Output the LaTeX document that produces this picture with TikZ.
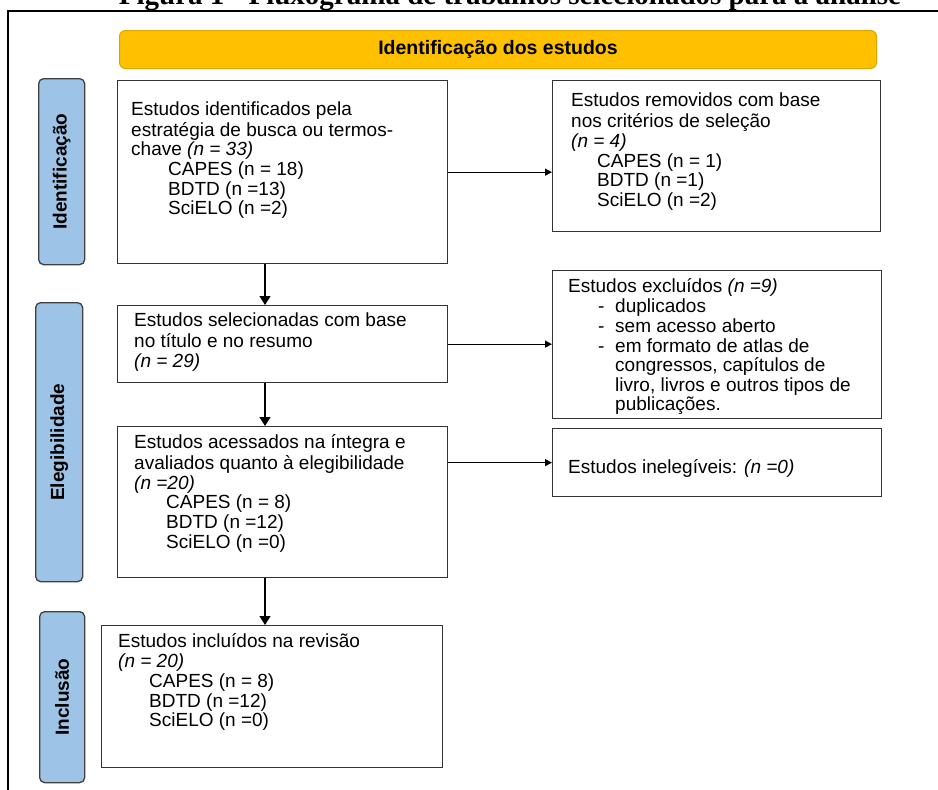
\documentclass[tikz,border=0pt]{standalone}
\usepackage{fontspec}
\setmainfont{Liberation Sans}
\newfontfamily\titlefont{Liberation Serif}
\usetikzlibrary{arrows.meta}
\definecolor{banner}{HTML}{FFC000}
\definecolor{bannerborder}{HTML}{D9A600}
\definecolor{phaseblue}{HTML}{9DC3E6}
\definecolor{boxline}{HTML}{333333}
\newcommand\bodyfont{\fontsize{19}{19.6}\selectfont}
\begin{document}
\begin{tikzpicture}[x=1pt,y=-1pt,
  box/.style={draw=boxline, line width=1.3pt, anchor=north west, inner sep=0pt},
  txt/.style={anchor=north west, inner sep=0pt, align=left, font=\bodyfont},
  phase/.style={draw=black!75, fill=phaseblue, rounded corners=5pt, line width=1.3pt, anchor=north west, inner sep=0pt},
  phtxt/.style={rotate=90, inner sep=0pt, font=\bfseries\fontsize{19}{20}\selectfont},
  varr/.style={line width=1.3pt, -{Triangle[length=9pt,width=11pt]}},
  harr/.style={line width=1.3pt, -{Triangle[length=7pt,width=7pt]}}]
\useasboundingbox (0,0) rectangle (938,790);
% title (cut off at the top)
\node[font=\titlefont\bfseries\fontsize{29}{31}\selectfont, anchor=base, inner sep=0pt] (title) at (510,4) {Figura 1 - Fluxograma de trabalhos selecionados para a análise};
% frame
\coordinate (fr1) at (938,11);
\coordinate (fr2) at (8,790);
\draw[line width=2pt] (fr1) -| (fr2);
% banner
\node[draw=bannerborder, fill=banner, rounded corners=6pt, line width=1pt, minimum width=757pt, minimum height=38pt, anchor=north west, inner sep=0pt, font=\bfseries\fontsize{19.5}{21}\selectfont] (ban) at (119,30) {Identificação dos estudos};
% phase labels
\node[phase, minimum width=46pt, minimum height=186pt] (p1) at (38,78) {};
\node[phtxt] (p1t) at (p1.center) {Identificação};
\node[phase, minimum width=47pt, minimum height=279pt] (p2) at (35,302) {};
\node[phtxt] (p2t) at (p2.center) {Elegibilidade};
\node[phase, minimum width=45pt, minimum height=171pt] (p3) at (39,611) {};
\node[phtxt] (p3t) at (p3.center) {Inclusão};
% boxes
\node[box, minimum width=330pt, minimum height=183pt] (b1) at (117,80) {};
\node[box, minimum width=328pt, minimum height=151pt] (b2) at (552,80) {};
\node[box, minimum width=330pt, minimum height=77pt] (b3) at (117,305) {};
\node[box, minimum width=329pt, minimum height=148pt] (b5) at (552,270) {};
\node[box, minimum width=330pt, minimum height=151pt] (b4) at (117,426) {};
\node[box, minimum width=329pt, minimum height=68pt] (b6) at (552,428) {};
\node[box, minimum width=341pt, minimum height=142pt] (b7) at (101,625) {};
% texts
\node[txt] (t1) at (131,101.5) {\strut Estudos identificados pela\\ estratégia de busca ou termos-\\ chave \textit{(n = 33)}\\ \hspace*{37pt}CAPES (n = 18)\\ \hspace*{37pt}BDTD (n =13)\\ \hspace*{37pt}SciELO (n =2)};
\node[txt] (t2) at (571,93) {\strut Estudos removidos com base\\ nos critérios de seleção\\ \textit{(n = 4)}\\ \hspace*{26pt}CAPES (n = 1)\\ \hspace*{26pt}BDTD (n =1)\\ \hspace*{26pt}SciELO (n =2)};
\node[txt] (t3) at (134,313) {\strut Estudos selecionadas com base\\ no título e no resumo\\ \textit{(n = 29)}};
\node[txt] (t4) at (134,434.6) {\strut Estudos acessados na íntegra e\\ avaliados quanto à elegibilidade\\ \textit{(n =20)}\\ \hspace*{32pt}CAPES (n = 8)\\ \hspace*{32pt}BDTD (n =12)\\ \hspace*{32pt}SciELO (n =0)};
\node[txt] (t5) at (568,278) {\strut Estudos excluídos \textit{(n =9)}\\ \hspace*{30pt}\makebox[17pt][l]{-}duplicados\\ \hspace*{30pt}\makebox[17pt][l]{-}sem acesso aberto\\ \hspace*{30pt}\makebox[17pt][l]{-}em formato de atlas de\\ \hspace*{47pt}congressos, capítulos de\\ \hspace*{47pt}livro, livros e outros tipos de\\ \hspace*{47pt}publicações.};
\node[txt] (t6) at (568,459.6) {\strut Estudos inelegíveis: \textit{(n =0)}};
\node[txt] (t7) at (118,633) {\strut Estudos incluídos na revisão\\ \textit{(n = 20)}\\ \hspace*{31pt}CAPES (n = 8)\\ \hspace*{31pt}BDTD (n =12)\\ \hspace*{31pt}SciELO (n =0)};
% connectors
\coordinate (ax) at (265,0);
\draw[varr] (b1.south -| ax) -- (b3.north -| ax);
\draw[varr] (b3.south -| ax) -- (b4.north -| ax);
\draw[varr] (b4.south -| ax) -- (b7.north -| ax);
\draw[harr] (b1.east) -- (b1.east -| b2.west);
\draw[harr] (b3.east) -- (b3.east -| b5.west);
\draw[harr] (b4.east |- b6.west) -- (b6.west);
\end{tikzpicture}
\end{document}
